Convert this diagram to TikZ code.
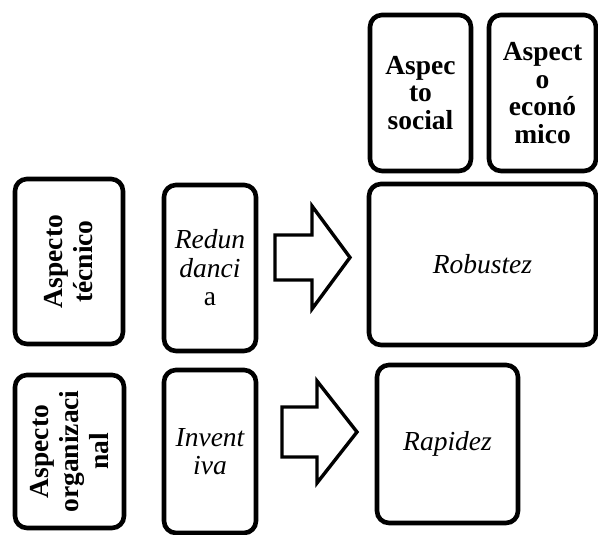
\documentclass[tikz,border=0pt]{standalone}
\usepackage{fontspec}
\setmainfont{Liberation Serif}
\begin{document}
\begin{tikzpicture}[x=1pt,y=1pt,
  box/.style={draw, line width=4.6pt, rounded corners=12pt, align=center, inner sep=0pt},
  bbox/.style={box, font=\fontsize{27.5}{27.5}\selectfont\bfseries},
  rbox/.style={box, rotate=90, font=\fontsize{27.5}{30}\selectfont\bfseries},
  ibox/.style={box, font=\fontsize{27.5}{28.5}\selectfont\itshape},
  blockarrow/.style={draw, line width=3.4pt, line join=miter}]
\useasboundingbox (0,0) rectangle (598,535);
% top row
\node[bbox, minimum width=101pt, minimum height=156pt] (social) at (420.5,442) {Aspec\\to\\social};
\node[bbox, minimum width=107pt, minimum height=156pt] (econ) at (542.5,442) {Aspect\\o\\econó\\mico};
% middle row
\node[rbox, minimum width=165pt, minimum height=108pt] (tecnico) at (69,273.5) {Aspecto\\técnico};
\node[ibox, minimum width=92pt, minimum height=166pt] (redund) at (210,267) {Redun\\danci\\{\upshape a}};
\node[ibox, minimum width=227pt, minimum height=161pt] (robust) at (482.5,270.5) {Robustez};
% bottom row
\node[rbox, minimum width=153pt, minimum height=109pt] (organiz) at (69.5,83.5) {Aspecto\\organizaci\\nal};
\node[ibox, minimum width=92pt, minimum height=163pt] (invent) at (210,83.5) {Invent\\iva};
\node[ibox, minimum width=141pt, minimum height=158pt] (rapidez) at (447.5,91) {Rapidez};
% block arrows
\draw[blockarrow] (275,255) -- (312,255) -- (312,226) -- (350,277.5) -- (312,329) -- (312,300) -- (275,300) -- cycle;
\draw[blockarrow] (282,78) -- (317,78) -- (317,52) -- (357,103) -- (317,154) -- (317,128) -- (282,128) -- cycle;
\end{tikzpicture}
\end{document}
